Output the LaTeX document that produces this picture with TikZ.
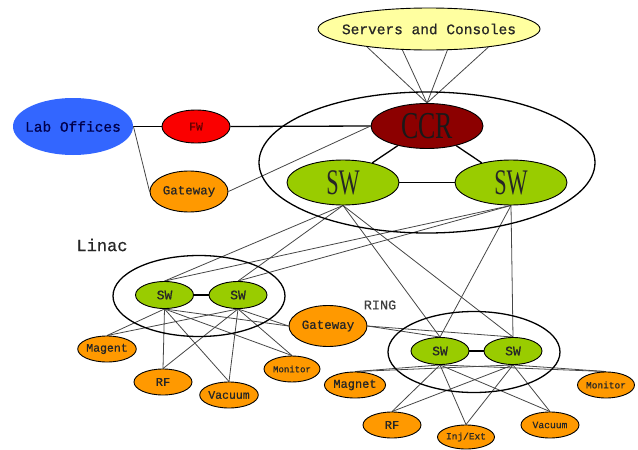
\documentclass[tikz,border=0pt]{standalone}
\usepackage{fontspec}
\usepackage{graphicx}
\setmainfont{Liberation Mono}[FakeBold=0.7]
\newfontfamily\serf{Liberation Serif}
\usetikzlibrary{shapes.geometric}
\pgfdeclarelayer{background}
\pgfsetlayers{background,main}
\definecolor{srvC}{RGB}{255,255,160}
\definecolor{labC}{RGB}{51,102,255}
\definecolor{fwC}{RGB}{250,0,0}
\definecolor{orgC}{RGB}{255,153,0}
\definecolor{ccrC}{RGB}{140,0,0}
\definecolor{swC}{RGB}{153,204,0}
\definecolor{lineC}{RGB}{70,70,70}
\newcommand{\fs}[1]{\fontsize{#1}{#1}\selectfont}
\begin{document}
\begin{tikzpicture}[x=1pt,y=-1pt,
  oval/.style={ellipse, draw=black, line width=0.9pt, inner sep=0pt, text=black!85},
  group/.style={ellipse, draw=black, line width=1.3pt, inner sep=0pt, fill=none},
  orange/.style={oval, fill=orgC, minimum width=58pt, minimum height=26pt},
  smallsw/.style={oval, fill=swC, minimum width=58pt, minimum height=27pt, font=\fs{13}},
  bigsw/.style={oval, fill=swC, minimum width=112pt, minimum height=45pt},
  gw/.style={orange, minimum width=78pt, minimum height=41pt, font=\fs{12.5}},
  link/.style={draw=lineC, line width=0.8pt},
  mainlink/.style={draw=black, line width=1.3pt},
  lbl/.style={inner sep=0pt, text=black!85}
]
\useasboundingbox (0,0) rectangle (638,450);

% groups
\node[group, minimum width=336pt, minimum height=141pt] (core) at (427,162.5) {};
\node[group, minimum width=172pt, minimum height=81pt] (linacgrp) at (199,296) {};
\node[group, minimum width=172pt, minimum height=81pt] (ringgrp) at (474,352) {};

% top
\node[oval, fill=srvC, minimum width=222pt, minimum height=42pt, inner xsep=-9pt, font=\fs{14.5}] (srv) at (429,29) {Servers and Consoles};
\node[oval, draw=none, fill=labC, minimum width=120pt, minimum height=57pt, inner xsep=-6.5pt, font=\fs{14.5}, text=blue!30!black] (lab) at (73,126.5) {Lab Offices};
\node[oval, fill=fwC, minimum width=68pt, minimum height=33pt, font=\fs{11.5}, text=red!40!black] (fw) at (196,126.5) {FW};
\node[gw] (gw1) at (189,191.5) {Gateway};
\node[oval, fill=ccrC, minimum width=112pt, minimum height=45pt, text=black!90] (ccr) at (427,126) {\scalebox{0.68}[1]{\serf\fs{38}CCR}};
\node[bigsw] (swl) at (343,182.5) {\scalebox{0.62}[1]{\serf\fs{36}SW}};
\node[bigsw] (swr) at (511,182.5) {\scalebox{0.62}[1]{\serf\fs{36}SW}};

% linac
\node[lbl, font=\fs{17}] (linaclbl) at (102,245) {Linac};
\node[smallsw] (lsw1) at (164.5,295) {SW};
\node[smallsw] (lsw2) at (238,295) {SW};
\node[orange, font=\fs{11.5}] (magent) at (107,349) {Magent};
\node[orange, font=\fs{12}] (lrf) at (163,382) {RF};
\node[orange, font=\fs{11.5}] (lvac) at (229,395) {Vacuum};
\node[orange, minimum width=56pt, font=\fs{9}] (lmon) at (292,369) {Monitor};
\node[gw] (gw2) at (328,326) {Gateway};

% ring
\node[lbl, font=\fs{13.5}, text=black!75] (ringlbl) at (380,305) {RING};
\node[smallsw] (rsw1) at (440,351) {SW};
\node[smallsw] (rsw2) at (513,351) {SW};
\node[orange, font=\fs{12}] (magnet) at (355,385) {Magnet};
\node[orange, minimum width=57pt, font=\fs{9.5}] (rmon) at (606,385) {Monitor};
\node[orange, font=\fs{12}] (rrf) at (392,425) {RF};
\node[orange, minimum width=57pt, minimum height=24pt, font=\fs{9.5}] (inj) at (466,437) {Inj/Ext};
\node[orange, font=\fs{9.7}] (rvac) at (550,425) {Vacuum};

\begin{pgfonlayer}{background}
  % main links
  \draw[mainlink] (lab.east) -- (fw.west);
  \draw[mainlink] (fw.east) -- (ccr.west);
  \draw[mainlink] (ccr) -- (swl);
  \draw[mainlink] (ccr) -- (swr);
  \draw[mainlink] (swl) -- (swr);
  \draw[mainlink] (lsw1) -- (lsw2);
  \draw[mainlink] (rsw1) -- (rsw2);
  % thin links
  \draw[link] (lab.east) -- (gw1.west);
  \draw[link] (gw1.east) -- (ccr.west);
  \foreach \a in {196,218,311,343} {\draw[link] (srv.\a) -- (ccr.north);}
  \foreach \u in {swl,swr} {
    \foreach \d in {lsw1,lsw2,rsw1,rsw2} {\draw[link] (\u.south) -- (\d.north);}
  }
  \foreach \s in {lsw1,lsw2} {
    \foreach \d in {magent,lrf,lvac,lmon} {\draw[link] (\s.south) -- (\d.north);}
    \draw[link] (\s.south) -- (gw2.west);
  }
  \foreach \s in {rsw1,rsw2} {
    \draw[link] (gw2.east) -- (\s.north);
    \foreach \d in {magnet,rmon,rrf,inj,rvac} {\draw[link] (\s.south) -- (\d.north);}
  }
\end{pgfonlayer}
\end{tikzpicture}
\end{document}
